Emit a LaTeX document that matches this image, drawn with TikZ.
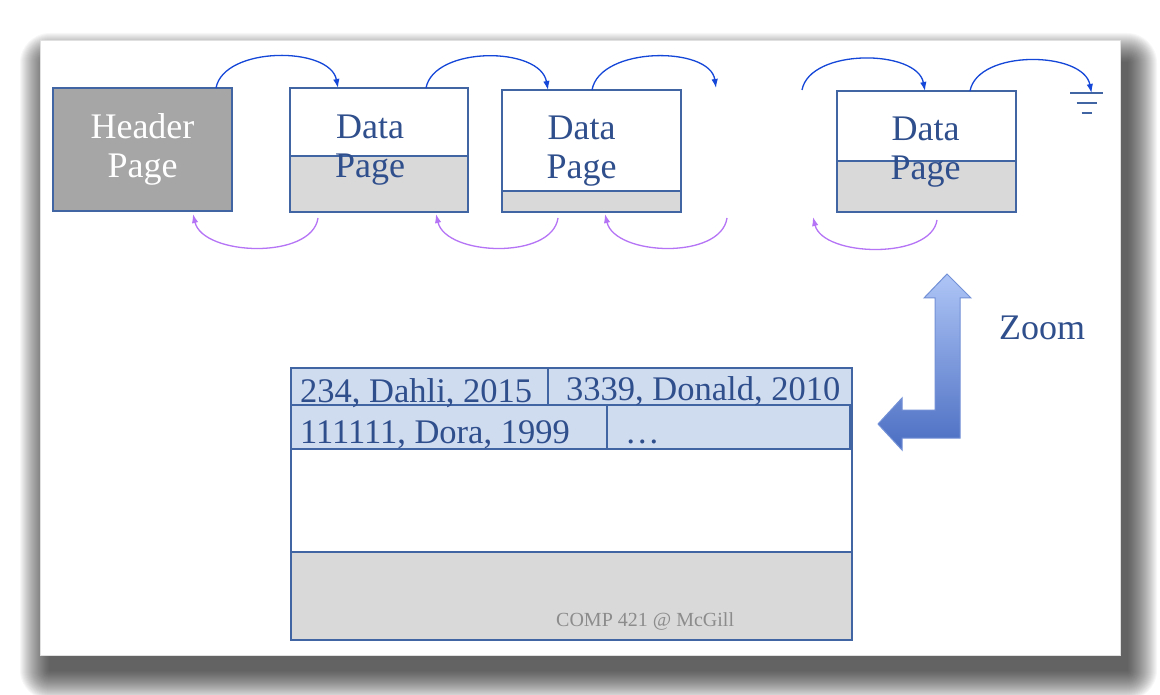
\documentclass[tikz,border=0pt]{standalone}
\usepackage{fontspec}
\setmainfont{Liberation Serif}
\usetikzlibrary{arrows.meta}

\definecolor{pageborder}{HTML}{4164A3}
\definecolor{pagetext}{HTML}{2F4E8C}
\definecolor{headergray}{HTML}{A6A6A6}
\definecolor{freegray}{HTML}{D9D9D9}
\definecolor{recordblue}{HTML}{CFDBEF}
\definecolor{nextblue}{HTML}{1446D8}
\definecolor{prevpurple}{HTML}{B574F5}
\definecolor{zoomtop}{HTML}{AEC5F6}
\definecolor{zoombottom}{HTML}{4B6EC2}
\definecolor{zoomedge}{HTML}{7391D6}
\definecolor{footergray}{HTML}{8C8C8C}

\begin{document}
\begin{tikzpicture}[
    x=1pt, y=-1pt,
    >={Latex[length=9pt,width=6.5pt]},
    pagebox/.style={draw=pageborder, line width=1.5pt, fill=white, inner sep=0pt, outer sep=0pt},
    freespace/.style={draw=pageborder, line width=1.5pt, fill=freegray, inner sep=0pt, outer sep=0pt},
    recordcell/.style={draw=pageborder, line width=1.4pt, fill=recordblue, inner sep=0pt, outer sep=0pt},
    pagelabel/.style={font=\fontsize{36}{39}\selectfont, text=pagetext, align=center, inner sep=0pt},
    recordtext/.style={font=\fontsize{34.5}{38}\selectfont, text=pagetext, inner sep=0pt},
    footerlabel/.style={font=\fontsize{20}{24}\selectfont, text=footergray, inner sep=0pt},
    nextlink/.style={->, draw=nextblue, line width=1.3pt},
    prevlink/.style={->, draw=prevpurple, line width=1.3pt},
    groundline/.style={draw=pageborder, line width=1.6pt},
    zoomarrow/.style={draw=zoomedge, line width=1pt, top color=zoomtop, bottom color=zoombottom},
]
\useasboundingbox (0,0) rectangle (1160,695);

% slide and its shadow
\foreach \r in {0,...,29} {
    \fill[black, fill opacity=0.033, rounded corners=\r pt+1pt] (49-\r, 62-\r) rectangle (1128+\r, 671+\r);
}
\fill[white] (40,40) rectangle (1120,655);
\draw[black!12, line width=0.8pt] (40,40) rectangle (1120,655);

\node[pagebox, fill=headergray, minimum width=179pt, minimum height=123pt, pagelabel, text=white] (headerpage) at (142.5,149.5) {Header\\Page};

\node[pagebox, minimum width=178pt, minimum height=124pt] (pagea) at (379,150) {};
\node[freespace, minimum width=178pt, minimum height=56pt, anchor=south] (freea) at (pagea.south) {};
\node[pagelabel] (labela) at ([shift={(-9,0)}]pagea) {Data\\Page};

\node[pagebox, minimum width=179pt, minimum height=122pt] (pageb) at (591.5,151) {};
\node[freespace, minimum width=179pt, minimum height=21pt, anchor=south] (freeb) at (pageb.south) {};
\node[pagelabel] (labelb) at ([shift={(-10,0)}]pageb) {Data\\Page};

\node[pagebox, minimum width=179pt, minimum height=121pt] (pagec) at (926.5,151.5) {};
\node[freespace, minimum width=179pt, minimum height=51pt, anchor=south] (freec) at (pagec.south) {};
\node[pagelabel] (labelc) at ([shift={(-1,1)}]pagec) {Data\\Page};

\coordinate (nextfree) at (716,88);
\coordinate (prevfree) at (802,90);
\coordinate (backfree) at (727,218);
\coordinate (backend) at (813,217);
\coordinate (ground) at (1086.5,93);

\draw[groundline] ([shift={(-16.5,0)}]ground) -- ([shift={(16.5,0)}]ground);
\draw[groundline] ([shift={(-10,10)}]ground) -- ([shift={(10,10)}]ground);
\draw[groundline] ([shift={(-5,20)}]ground) -- ([shift={(5,20)}]ground);

\draw[nextlink] ([shift={(-16,0)}]headerpage.north east) .. controls +(8,-42) and +(-8,-42) .. ([shift={(48,0)}]pagea.north west);
\draw[nextlink] ([shift={(-42,0)}]pagea.north east) .. controls +(8,-42) and +(-8,-44) .. ([shift={(46,0)}]pageb.north west);
\draw[nextlink] ([shift={(0.5,0)}]pageb.north) .. controls +(8,-44) and +(-6,-42) .. (nextfree);
\draw[nextlink] (prevfree) .. controls +(8,-42) and +(-8,-42) .. ([shift={(-1.5,0)}]pagec.north);
\draw[nextlink] ([shift={(43.5,0)}]pagec.north) .. controls +(8,-42) and +(-8,-42) .. ([shift={(5,0)}]ground);

\draw[prevlink] ([shift={(-61,6)}]freea.south) .. controls +(-6,42) and +(10,42) .. ([shift={(-39,3)}]headerpage.south east);
\draw[prevlink] ([shift={(-33.5,6)}]freeb.south) .. controls +(-6,42) and +(10,42) .. ([shift={(-32,2)}]freea.south east);
\draw[prevlink] (backfree) .. controls +(-6,42) and +(10,42) .. ([shift={(13.5,2)}]freeb.south);
\draw[prevlink] ([shift={(10.5,8)}]freec.south) .. controls +(-6,40) and +(10,40) .. (backend);

% zoom arrow
\shade[zoomarrow] (947,274) -- (971,298) -- (960,298) -- (960,438) -- (902,438) -- (902,450) -- (878,424)
    -- (902,398) -- (902,410) -- (935,410) -- (935,298) -- (924,298) -- cycle;
\node[pagelabel] (zoomtext) at (1042,328) {Zoom};

\node[pagebox, minimum width=561pt, minimum height=272pt] (zoompage) at (571.5,504) {};
\node[freespace, minimum width=561pt, minimum height=88pt, anchor=south] (zoomfree) at (zoompage.south) {};
\node[recordcell, minimum width=257pt, minimum height=37pt, anchor=north west] (cellone) at (zoompage.north west) {};
\node[recordcell, minimum width=304pt, minimum height=37pt, anchor=north west] (celltwo) at (cellone.north east) {};
\node[recordcell, minimum width=316pt, minimum height=44pt, anchor=north west] (cellthree) at (cellone.south west) {};
\node[recordcell, minimum width=243pt, minimum height=44pt, anchor=north west] (cellfour) at (cellthree.north east) {};

\node[recordtext, anchor=base west] (recordone) at ([shift={(9,-3)}]cellone.south west) {234, Dahli, 2015};
\node[recordtext, anchor=base west] (recordtwo) at ([shift={(18,-5)}]celltwo.south west) {3339, Donald, 2010};
\node[recordtext, anchor=base west] (recordthree) at ([shift={(9,-6)}]cellthree.south west) {111111, Dora, 1999};
\node[recordtext, anchor=base west] (recordfour) at ([shift={(18,-6)}]cellfour.south west) {…};
\node[footerlabel, anchor=base west] (footertext) at ([shift={(265,-14)}]zoomfree.south west) {COMP 421 @ McGill};

\end{tikzpicture}
\end{document}
